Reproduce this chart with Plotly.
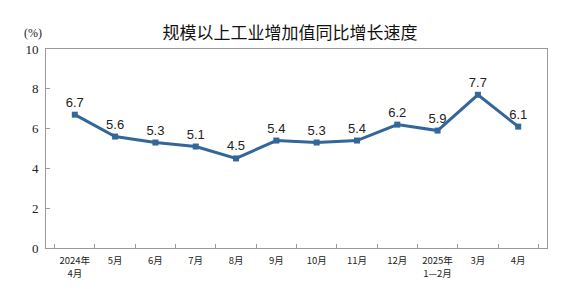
import plotly.graph_objects as go

categories = ["2024年<br>4月", "5月", "6月", "7月", "8月", "9月", "10月", "11月", "12月",
              "2025年<br>1—2月", "3月", "4月"]
values = [6.7, 5.6, 5.3, 5.1, 4.5, 5.4, 5.3, 5.4, 6.2, 5.9, 7.7, 6.1]
y_ticks = [0, 2, 4, 6, 8, 10]

W, H = 571, 296  # page adds an 8px body margin

fig = go.Figure()
fig.add_trace(go.Scatter(
    x=categories, y=values, mode="lines+markers+text",
    text=[f"{v:.1f}" for v in values], textposition="top center",
    textfont=dict(family="Liberation Sans, Arial", size=13, color="#222"),
    line=dict(color="#336699", width=3),
    marker=dict(symbol="square", size=6, color="#336699"),
    cliponaxis=False, hoverinfo="skip"))

fig.update_layout(
    width=W, height=H,
    margin=dict(l=38, r=32, t=41, b=56, autoexpand=False),
    paper_bgcolor="white", plot_bgcolor="white",
    showlegend=False,
    title=dict(text="规模以上工业增加值同比增长速度", x=(290 - 8) / W, xanchor="center",
               y=1 - 25 / H, yanchor="middle",
               font=dict(family="Noto Sans CJK SC", size=17, color="#111")),
    annotations=[dict(text="(%)", xref="paper", yref="paper", x=-0.026, y=1.08,
                      xanchor="center", yanchor="middle", showarrow=False,
                      font=dict(family="Liberation Serif", size=12, color="#222"))],
)
fig.update_xaxes(
    type="category", tickson="boundaries", ticks="inside", ticklen=4,
    tickcolor="#999", showline=True, linecolor="#999", linewidth=1, mirror=True,
    showgrid=False, tickangle=0, automargin=False, ticklabelstandoff=4,
    tickfont=dict(family="Noto Sans CJK SC", size=9.5, color="#222"))
fig.update_yaxes(
    range=[0, 10], tickvals=y_ticks, ticks="inside", ticklen=4, tickcolor="#999",
    showline=True, linecolor="#999", linewidth=1, mirror=True, showgrid=False,
    zeroline=False, ticklabelstandoff=4, automargin=False,
    tickfont=dict(family="Liberation Serif", size=13, color="#222"))

fig.write_html("out.html")
